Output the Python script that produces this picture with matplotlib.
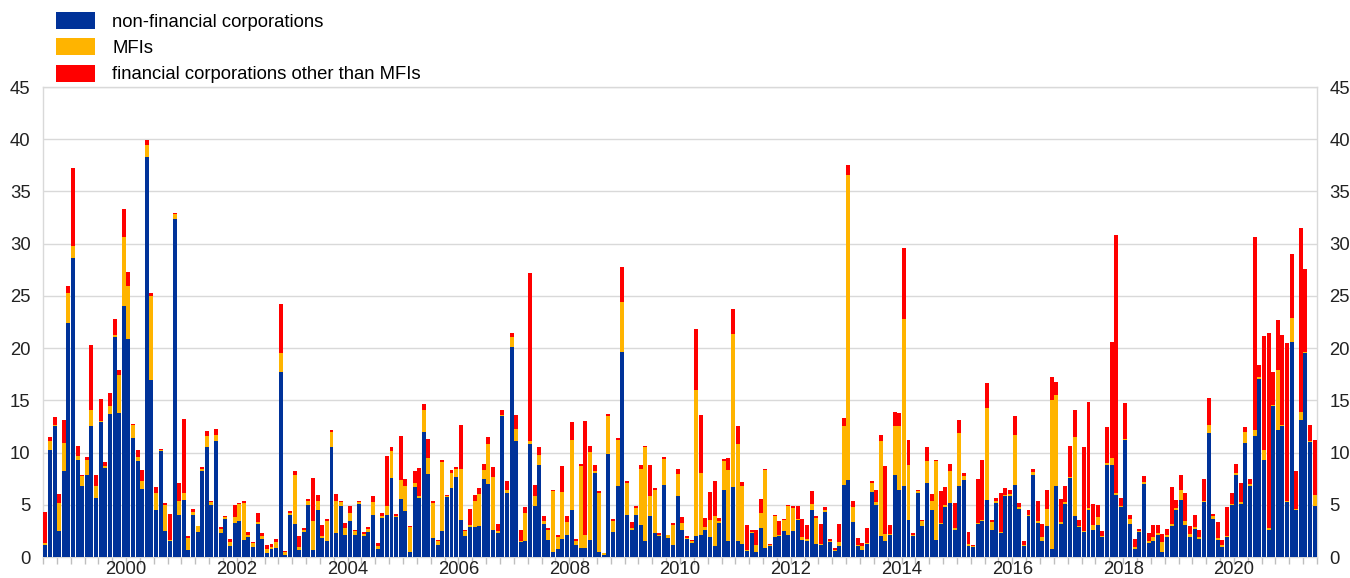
import numpy as np
import matplotlib
matplotlib.use("Agg")
import matplotlib.pyplot as plt
from matplotlib.patches import Patch

plt.rcParams['font.family'] = ['Liberation Sans', 'DejaVu Sans']

# monthly data, Jan 1999 - Dec 2021 (EUR bn)
start_year = 1999
nfc = [1.18, 10.27, 12.50, 2.46, 8.26, 22.39, 28.67, 9.31, 6.76, 7.88, 12.50, 5.64,
       12.91, 8.51, 13.68, 21.11, 13.78, 24.07, 20.89, 11.38, 9.15, 6.50, 38.27, 16.96,
       4.46, 10.11, 2.46, 1.50, 32.33, 4.05, 5.48, 0.70, 4.05, 2.36, 8.26, 10.49,
       5.00, 11.07, 2.30, 3.64, 1.08, 3.25, 3.41, 1.66, 1.91, 0.96, 3.19, 1.72,
       0.38, 0.77, 0.86, 17.70, 0.22, 4.05, 3.16, 0.64, 2.39, 5.00, 0.70, 4.53,
       1.82, 1.50, 10.49, 2.30, 4.91, 2.14, 3.41, 2.14, 5.07, 2.04, 2.36, 4.05,
       0.77, 3.73, 4.05, 7.56, 3.79, 5.55, 4.43, 0.45, 6.70, 5.64, 11.93, 7.97,
       1.82, 1.18, 2.46, 5.71, 6.60, 7.62, 3.57, 1.98, 2.87, 2.87, 3.00, 7.46,
       6.98, 2.61, 2.30, 13.46, 6.12, 20.15, 11.07, 1.40, 1.56, 10.81, 4.85, 8.83,
       3.16, 1.66, 0.45, 0.77, 1.72, 2.07, 4.46, 1.12, 0.86, 0.86, 1.59, 8.04,
       0.45, 0.22, 9.85, 2.36, 6.76, 19.67, 4.05, 2.61, 4.05, 3.03, 1.50, 3.95,
       2.30, 1.98, 6.92, 1.82, 1.18, 5.80, 2.61, 1.72, 1.34, 2.04, 2.14, 2.61,
       1.91, 1.02, 3.25, 6.44, 1.50, 6.70, 1.56, 1.28, 0.54, 2.30, 0.45, 2.77,
       0.86, 1.02, 1.91, 2.04, 2.46, 2.14, 2.46, 3.51, 1.59, 1.56, 4.53, 1.28,
       1.18, 4.27, 1.40, 0.61, 1.02, 6.92, 7.40, 3.32, 1.08, 0.70, 1.24, 6.22,
       5.00, 2.04, 1.50, 2.14, 7.88, 6.44, 6.82, 3.51, 2.04, 6.12, 2.93, 7.08,
       4.53, 1.66, 3.16, 4.78, 5.17, 2.61, 6.76, 7.40, 1.08, 0.92, 3.16, 3.41,
       5.48, 2.61, 5.17, 2.30, 5.80, 5.80, 6.86, 4.59, 1.08, 3.89, 7.88, 3.25,
       1.56, 3.00, 0.77, 6.76, 3.16, 5.10, 7.56, 3.89, 2.84, 2.36, 4.53, 2.55,
       3.09, 1.88, 8.83, 8.77, 5.96, 4.75, 11.16, 3.16, 0.80, 2.36, 7.02, 1.34,
       1.56, 2.14, 0.45, 1.91, 2.93, 4.53, 5.48, 3.09, 1.88, 2.68, 1.72, 5.23,
       11.86, 3.64, 1.66, 0.96, 1.88, 4.94, 7.88, 5.10, 10.91, 6.76, 11.54, 17.03,
       9.31, 2.61, 14.41, 12.12, 12.50, 5.23, 20.63, 4.46, 13.07, 19.52, 10.97, 4.85]
mfi = [0.16, 0.86, 0.16, 2.71, 2.64, 2.87, 1.15, 0.32, 0.96, 1.43, 1.59, 1.18,
       0.13, 0.16, 0.73, 0.16, 3.66, 6.61, 5.07, 1.28, 0.38, 0.80, 1.17, 8.04,
       1.66, 0.16, 2.48, 0.10, 0.47, 1.28, 0.64, 1.12, 0.22, 0.57, 0.16, 1.12,
       0.23, 0.63, 0.38, 0.19, 0.32, 0.58, 1.66, 3.51, 0.23, 0.38, 0.13, 0.32,
       0.39, 0.19, 0.54, 1.80, 0.23, 0.16, 4.72, 0.32, 0.22, 0.33, 2.71, 0.80,
       0.22, 1.91, 1.44, 3.09, 0.32, 0.63, 0.80, 0.32, 0.16, 0.19, 0.32, 1.18,
       0.25, 0.16, 0.86, 2.55, 0.16, 1.85, 2.39, 2.42, 0.38, 0.16, 2.10, 1.50,
       3.35, 0.32, 6.60, 0.16, 1.44, 0.80, 4.85, 0.48, 0.22, 2.46, 3.06, 0.89,
       3.86, 5.01, 0.16, 0.16, 0.32, 0.90, 1.17, 0.16, 2.65, 0.26, 0.95, 0.90,
       0.25, 0.95, 5.83, 1.11, 4.47, 1.25, 6.76, 0.38, 7.88, 1.28, 8.45, 0.16,
       5.67, 0.16, 3.61, 1.12, 4.46, 4.79, 3.03, 0.16, 0.64, 5.39, 8.99, 1.92,
       4.08, 0.09, 2.49, 0.25, 1.91, 2.17, 0.64, 0.10, 0.16, 13.97, 5.90, 0.23,
       1.66, 2.93, 0.23, 2.71, 6.85, 14.63, 9.25, 5.48, 0.16, 0.09, 0.67, 1.44,
       7.49, 0.10, 1.98, 0.10, 1.11, 2.71, 2.23, 0.13, 0.32, 0.16, 0.57, 2.45,
       0.06, 0.19, 0.10, 0.09, 0.38, 5.58, 29.18, 1.43, 0.10, 0.38, 0.10, 0.86,
       0.23, 9.09, 0.73, 0.09, 4.62, 6.06, 15.98, 5.32, 0.10, 0.16, 0.48, 2.14,
       0.80, 7.49, 0.09, 0.22, 3.03, 0.16, 5.10, 0.32, 0.16, 0.10, 0.09, 0.16,
       8.77, 0.71, 0.16, 0.09, 0.16, 0.23, 4.84, 0.16, 0.10, 0.16, 0.22, 0.16,
       0.35, 1.59, 14.28, 8.77, 0.16, 0.13, 0.09, 7.59, 0.16, 0.10, 0.16, 0.48,
       0.74, 0.16, 0.16, 0.70, 0.16, 0.16, 0.16, 0.48, 0.12, 0.10, 0.12, 0.16,
       0.35, 0.16, 0.95, 0.16, 0.23, 0.16, 0.96, 0.32, 0.35, 0.19, 0.16, 0.16,
       0.74, 0.31, 0.16, 0.16, 0.16, 0.16, 0.16, 0.13, 1.02, 0.22, 0.58, 0.16,
       0.89, 0.16, 0.16, 5.80, 0.10, 0.16, 2.23, 0.13, 0.77, 0.15, 0.16, 1.11]
ofc = [2.96, 0.32, 0.73, 0.86, 2.24, 0.73, 7.46, 1.02, 0.16, 0.22, 6.22, 0.99,
       2.07, 0.42, 1.28, 1.53, 0.48, 2.61, 1.30, 0.06, 0.74, 1.05, 0.48, 0.32,
       0.58, 0.09, 0.23, 2.50, 0.17, 1.75, 7.11, 0.22, 0.32, 0.07, 0.19, 0.41,
       0.16, 0.54, 0.16, 0.12, 0.32, 1.17, 0.10, 0.22, 0.25, 0.06, 0.89, 0.26,
       0.41, 0.32, 0.32, 4.70, 0.15, 0.22, 0.32, 1.08, 0.16, 0.22, 4.15, 0.63,
       1.05, 0.23, 0.19, 0.67, 0.16, 0.48, 0.70, 0.15, 0.16, 0.16, 0.16, 0.57,
       0.32, 0.32, 4.72, 0.38, 0.16, 4.21, 0.64, 0.13, 1.18, 2.71, 0.64, 1.85,
       0.22, 0.16, 0.25, 0.09, 0.25, 0.16, 4.24, 0.15, 1.50, 0.63, 0.54, 0.58,
       0.61, 0.99, 0.70, 0.47, 0.86, 0.38, 1.38, 1.05, 0.54, 16.10, 1.06, 0.76,
       0.48, 0.16, 0.16, 0.26, 2.48, 0.63, 1.66, 0.22, 0.16, 10.84, 0.61, 0.57,
       0.16, 0.00, 0.25, 0.16, 0.16, 3.35, 0.16, 0.58, 0.16, 0.35, 0.16, 2.96,
       0.22, 0.23, 0.16, 0.07, 0.16, 0.48, 0.58, 0.16, 0.09, 5.83, 5.58, 0.89,
       2.65, 3.29, 0.25, 0.23, 1.12, 2.43, 1.75, 0.41, 2.39, 0.22, 1.49, 1.37,
       0.10, 0.12, 0.16, 1.27, 0.10, 0.09, 0.22, 1.21, 1.73, 1.37, 1.18, 0.22,
       1.92, 0.29, 0.22, 0.16, 1.76, 0.80, 0.95, 0.64, 0.64, 0.26, 1.43, 0.22,
       1.21, 0.57, 6.44, 0.86, 1.43, 1.28, 6.76, 2.39, 0.16, 0.16, 0.10, 1.30,
       0.70, 0.16, 3.03, 1.70, 0.73, 2.40, 1.28, 0.32, 1.15, 0.16, 4.24, 5.68,
       2.40, 0.25, 0.31, 3.73, 0.64, 0.41, 1.76, 0.42, 0.32, 0.48, 0.32, 1.92,
       1.28, 1.85, 2.14, 1.18, 2.23, 1.59, 2.94, 2.61, 0.57, 8.06, 10.14, 2.07,
       1.11, 0.42, 3.41, 11.10, 24.72, 0.73, 3.41, 0.35, 0.83, 0.22, 0.58, 0.80,
       1.12, 0.79, 0.83, 0.61, 3.50, 0.79, 1.44, 2.71, 0.70, 1.18, 0.67, 2.07,
       2.61, 0.20, 1.50, 0.54, 2.71, 1.02, 0.86, 1.85, 0.47, 0.51, 18.56, 1.15,
       10.97, 18.66, 3.13, 4.78, 8.61, 15.08, 6.13, 3.61, 17.63, 7.88, 1.47, 5.26]

labels = ["non-financial corporations", "MFIs", "financial corporations other than MFIs"]
colors = ["#003299", "#FFB400", "#FF0000"]

nfc = np.array(nfc)
mfi = np.array(mfi)
ofc = np.array(ofc)
x = np.arange(len(nfc))

fig = plt.figure(figsize=(13.5, 5.78), dpi=100)
ax = fig.add_axes([43 / 1350, 21 / 578, 1274 / 1350, 470 / 578])

w = 0.86
ax.bar(x, nfc, width=w, color=colors[0], linewidth=0, zorder=3)
ax.bar(x, mfi, width=w, bottom=nfc, color=colors[1], linewidth=0, zorder=3)
ax.bar(x, ofc, width=w, bottom=nfc + mfi, color=colors[2], linewidth=0, zorder=3)

ax.set_xlim(-0.5, len(x) - 0.5)
ax.set_ylim(0, 45)
ax.set_yticks(np.arange(0, 46, 5))
ax.grid(axis="y", color="#d9d9d9", linewidth=1, zorder=0)
for s in ax.spines.values():
    s.set_color("#d9d9d9")
    s.set_linewidth(1)

ax.tick_params(axis="y", length=0, labelsize=13.3, pad=9, labelcolor="#222222",
               left=True, right=True, labelleft=True, labelright=True)

# quarterly tick marks, labels in the middle of even years
ax.xaxis.remove_overlapping_locs = False
ax.set_xticks(np.arange(0, len(x) + 1, 3) - 0.5)
ax.set_xticklabels([])
ax.tick_params(axis="x", which="major", length=5, color="#bfbfbf", width=1)
years = np.arange(2000, 2021, 2)
ax.set_xticks((years - start_year) * 12 + 5.5, minor=True)
ax.set_xticklabels([str(y) for y in years], minor=True)
ax.tick_params(axis="x", which="minor", length=0, labelsize=13.3, pad=3, labelcolor="#222222")

handles = [Patch(facecolor=c, edgecolor="none") for c in colors]
fig.legend(handles, labels, loc="upper left", bbox_to_anchor=(56 / 1350, 1 - 12 / 578),
           frameon=False, fontsize=13.3, borderpad=0, borderaxespad=0,
           handlelength=2.1, handleheight=1.05, handletextpad=0.95, labelspacing=0.4)

fig.savefig("out.png", dpi=100)
